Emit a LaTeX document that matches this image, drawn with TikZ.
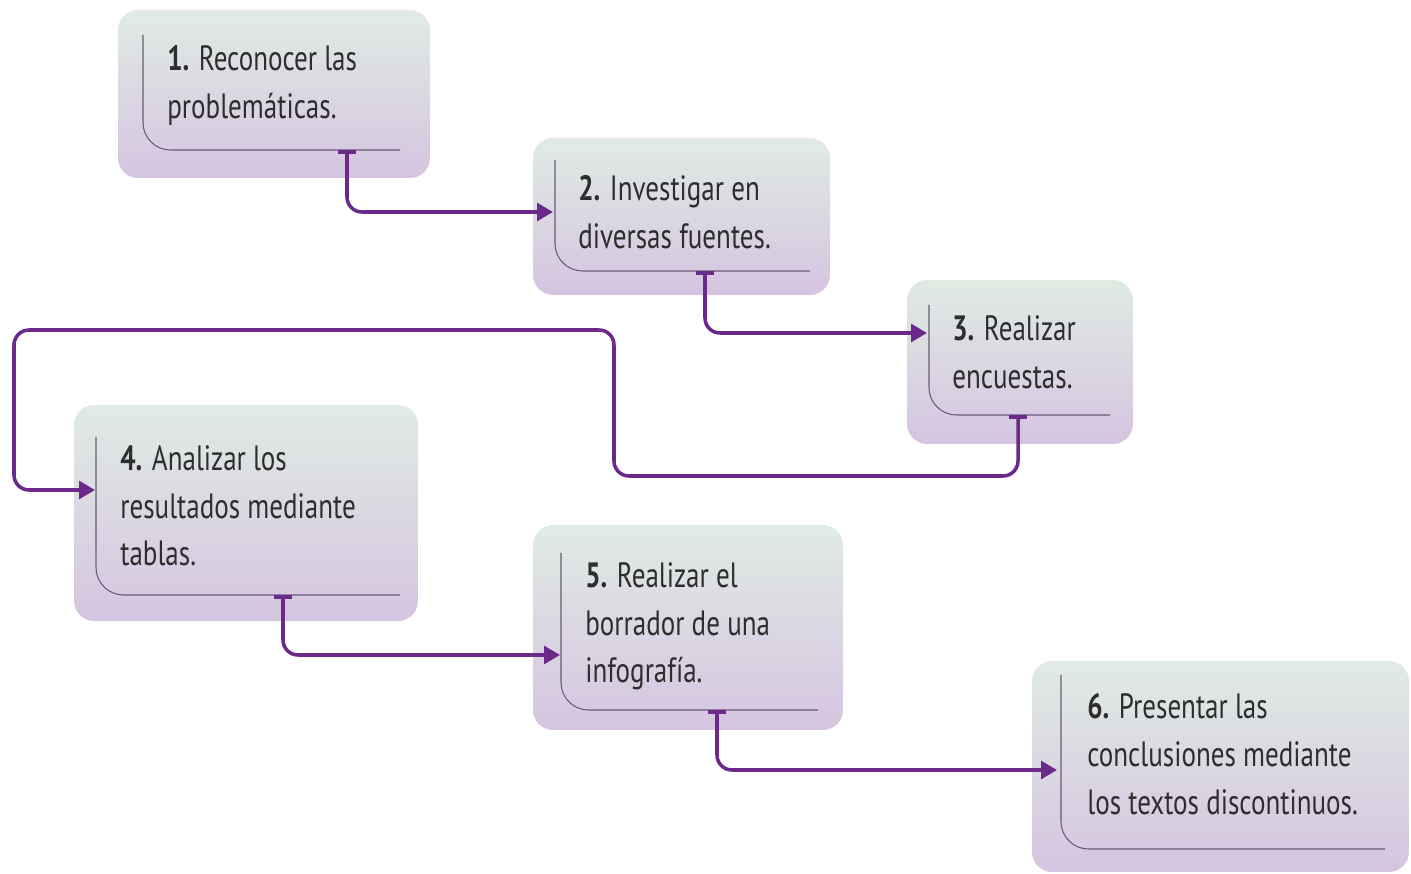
\documentclass[tikz,border=0pt]{standalone}
\usepackage{fontspec}
\setmainfont{PT Sans}[FakeStretch=0.77]
\usepackage{tikz}
\usetikzlibrary{arrows.meta}

\definecolor{boxtop}{HTML}{E0EBE4}
\definecolor{boxbot}{HTML}{D5C4E0}
\definecolor{edge}{HTML}{6A5A7C}
\definecolor{flowc}{HTML}{6B2A8A}
\definecolor{ink}{HTML}{2E2E2E}

\tikzset{
  stepbox/.style={rounded corners=0.4cm, top color=boxtop, bottom color=boxbot, draw=none},
  steptext/.style={anchor=north west, align=left, inner sep=0pt, text=ink,
    font=\fontsize{20}{27.2}\selectfont},
  corner/.style={draw=edge, line width=0.6pt, rounded corners=0.55cm},
  flow/.style={draw=flowc, line width=2pt, rounded corners=0.3cm,
    {Bar[width=10pt,line width=2pt]}-{Triangle[length=9pt,width=10pt]}}
}

\begin{document}
\begin{tikzpicture}[x=0.02cm, y=-0.02cm]
\useasboundingbox (0,0) rectangle (1411,874);

\node [stepbox, minimum width=6.24cm, minimum height=3.36cm] (b1) at (274,94) {};
\node [stepbox, minimum width=5.94cm, minimum height=3.14cm] (b2) at (681.5,216.5) {};
\node [stepbox, minimum width=4.52cm, minimum height=3.28cm] (b3) at (1020,362) {};
\node [stepbox, minimum width=6.88cm, minimum height=4.32cm] (b4) at (246,513) {};
\node [stepbox, minimum width=6.20cm, minimum height=4.10cm] (b5) at (688,627.5) {};
\node [stepbox, minimum width=7.54cm, minimum height=4.22cm] (b6) at (1220.5,766.5) {};

\path [corner] (143,35) -- (143,150) -- (400,150);
\path [corner] (555,160) -- (555,271) -- (810,271);
\path [corner] (929,305) -- (929,415) -- (1110,415);
\path [corner] (96,437) -- (96,595) -- (400,595);
\path [corner] (561,553) -- (561,710) -- (818,710);
\path [corner] (1061,675) -- (1061,849) -- (1385,849);

\node [steptext] (t1) at (167,45) {\textbf{1.} Reconocer las\\problemáticas.};
\node [steptext] (t2) at (578,175) {\textbf{2.} Investigar en\\diversas fuentes.};
\node [steptext] (t3) at (952,315) {\textbf{3.} Realizar\\encuestas.};
\node [steptext] (t4) at (120,445) {\textbf{4.} Analizar los\\resultados mediante\\tablas.};
\node [steptext] (t5) at (585,562) {\textbf{5.} Realizar el\\borrador de una\\infografía.};
\node [steptext] (t6) at (1087,693) {\textbf{6.} Presentar las\\conclusiones mediante\\los textos discontinuos.};

\coordinate (o1) at (347,150);
\coordinate (i2) at (553,212);
\coordinate (o2) at (705,271);
\coordinate (i3) at (927,333);
\coordinate (o3) at (1018,415);
\coordinate (i4) at (95,490);
\coordinate (o4) at (283,595);
\coordinate (i5) at (560,655);
\coordinate (o5) at (717,710);
\coordinate (i6) at (1057,770);

\draw [flow] (o1) |- (i2);
\draw [flow] (o2) |- (i3);
\draw [flow] (o3) |- (614,476) |- (14,330) |- (i4);
\draw [flow] (o4) |- (i5);
\draw [flow] (o5) |- (i6);

\end{tikzpicture}
\end{document}
